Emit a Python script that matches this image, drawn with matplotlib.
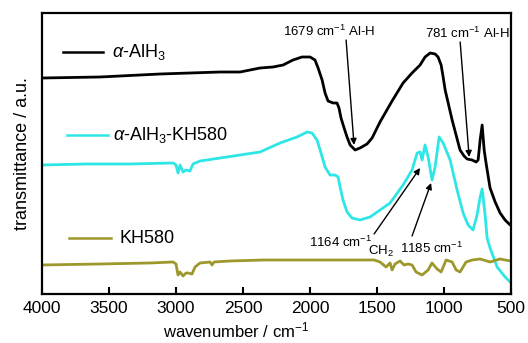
import numpy as np
import matplotlib
matplotlib.use("Agg")
import matplotlib.pyplot as plt
from matplotlib.lines import Line2D

plt.rcParams['font.family'] = ['Liberation Sans', 'DejaVu Sans']
plt.rcParams['mathtext.fontset'] = 'custom'
plt.rcParams['mathtext.rm'] = 'Liberation Sans'
plt.rcParams['mathtext.it'] = 'Liberation Sans:italic'
plt.rcParams['mathtext.bf'] = 'Liberation Sans:bold'

# alpha-AlH3
wn_alh3 = [4000, 3567, 3119, 2672, 2522, 2373, 2276, 2201, 2127, 2060, 2000, 1963, 1940,
           1910, 1888, 1866, 1828, 1799, 1784, 1769, 1746, 1724, 1701, 1664, 1627, 1575,
           1537, 1478, 1388, 1306, 1239, 1179, 1142, 1104, 1067, 1045, 1022, 1007, 992,
           940, 881, 851, 828, 791, 761, 746, 731, 716, 701, 687, 657, 619, 582, 545, 507]
t_alh3 = [216, 217, 220, 222, 222, 226, 227, 229, 234, 237, 237, 234, 226,
          214, 201, 193, 191, 191, 186, 176, 166, 157, 149, 144, 146, 150,
          156, 172, 193, 211, 221, 229, 237, 241, 240, 237, 229, 217, 204,
          174, 144, 138, 135, 134, 132, 134, 154, 169, 144, 131, 106, 92, 81, 74, 69]

# alpha-AlH3-KH580
wn_mix = [4000, 3664, 3343, 3022, 3000, 2985, 2970, 2948, 2925, 2896, 2873, 2821, 2769,
          2522, 2373, 2224, 2097, 2022, 1985, 1948, 1925, 1888, 1851, 1813, 1791, 1776,
          1754, 1724, 1687, 1627, 1552, 1403, 1306, 1239, 1201, 1179, 1164, 1142, 1119,
          1090, 1067, 1037, 1007, 955, 903, 858, 821, 784, 754, 731, 716, 694, 679, 657,
          604, 545, 507]
t_mix = [129, 130, 130, 131, 129, 121, 129, 122, 124, 123, 130, 133, 134,
         139, 142, 151, 157, 162, 161, 154, 144, 127, 119, 119, 117, 107,
         94, 82, 76, 74, 77, 91, 109, 124, 141, 142, 134, 149, 137,
         114, 127, 157, 151, 134, 104, 81, 69, 64, 79, 97, 105, 79, 56, 46,
         27, 17, 12]

# KH580
wn_kh = [4000, 3567, 3194, 3022, 3000, 2985, 2970, 2948, 2925, 2910, 2881, 2858, 2821,
         2746, 2731, 2716, 2597, 2343, 2075, 1776, 1522, 1478, 1433, 1403, 1388, 1366,
         1328, 1299, 1269, 1239, 1209, 1164, 1119, 1090, 1052, 1022, 985, 940, 910,
         881, 836, 791, 731, 657, 582, 507]
t_kh = [29, 30, 31, 32, 30, 19, 22, 18, 21, 21, 20, 27, 31,
        32, 29, 32, 33, 34, 34, 34, 34, 32, 27, 31, 24, 30,
        33, 29, 30, 29, 22, 19, 24, 31, 25, 22, 34, 32, 24,
        22, 32, 34, 35, 32, 35, 33]

series = [
    (wn_alh3, t_alh3, 'black', r'$\alpha$-AlH$_3$', 0.861, 0.045, 0.130, 0.149),
    (wn_mix, t_mix, '#2FE6E6', r'$\alpha$-AlH$_3$-KH580', 0.566, 0.053, 0.141, 0.151),
    (wn_kh, t_kh, '#9E982C', 'KH580', 0.199, 0.057, 0.147, 0.166),
]

fig = plt.figure(figsize=(5.28, 3.43), dpi=100)
ax = fig.add_axes([0.0795, 0.1429, 0.8885, 0.8192])

for wn, t, c, lab, ly, lx0, lx1, tx in series:
    ax.plot(wn, t, color=c, linewidth=2.0, solid_joinstyle='round', solid_capstyle='round')
    ax.add_line(Line2D([lx0, lx1], [ly, ly], transform=ax.transAxes, color=c, linewidth=1.8))
    ax.text(tx, ly, lab, transform=ax.transAxes, fontsize=13, va='center', ha='left')

ax.set_xlim(4000, 500)
ax.set_ylim(0, 281)
ax.set_xticks([4000, 3500, 3000, 2500, 2000, 1500, 1000, 500])
ax.set_yticks([])
ax.tick_params(axis='x', direction='in', length=5, width=1.5, labelsize=12.5, pad=5)
for s in ax.spines.values():
    s.set_linewidth(1.6)
ax.set_xlabel(r'wavenumber / cm$^{-1}$', fontsize=12)
ax.xaxis.set_label_coords(0.414, -0.095)
ax.set_ylabel('transmittance / a.u.', fontsize=13, labelpad=8)

afont = dict(fontsize=9.5)
arrow = dict(arrowstyle='-|>', color='black', lw=1.0, mutation_scale=9, shrinkA=0, shrinkB=0)

ax.text(1858, 263, r'1679 cm$^{-1}$ Al-H', ha='center', va='center', **afont)
ax.annotate('', xy=(1672, 149), xytext=(1731, 254), arrowprops=arrow)
ax.text(828, 261, r'781 cm$^{-1}$ Al-H', ha='center', va='center', **afont)
ax.annotate('', xy=(813, 137), xytext=(880, 252), arrowprops=arrow)
ax.text(1769, 52, r'1164 cm$^{-1}$', ha='center', va='center', **afont)
ax.annotate('', xy=(1179, 126), xytext=(1522, 60), arrowprops=arrow)
ax.text(1470, 43, r'CH$_2$', ha='center', va='center', **afont)
ax.text(1090, 46, r'1185 cm$^{-1}$', ha='center', va='center', **afont)
ax.annotate('', xy=(1097, 111), xytext=(1239, 58), arrowprops=arrow)

fig.savefig('out.png', dpi=100)
